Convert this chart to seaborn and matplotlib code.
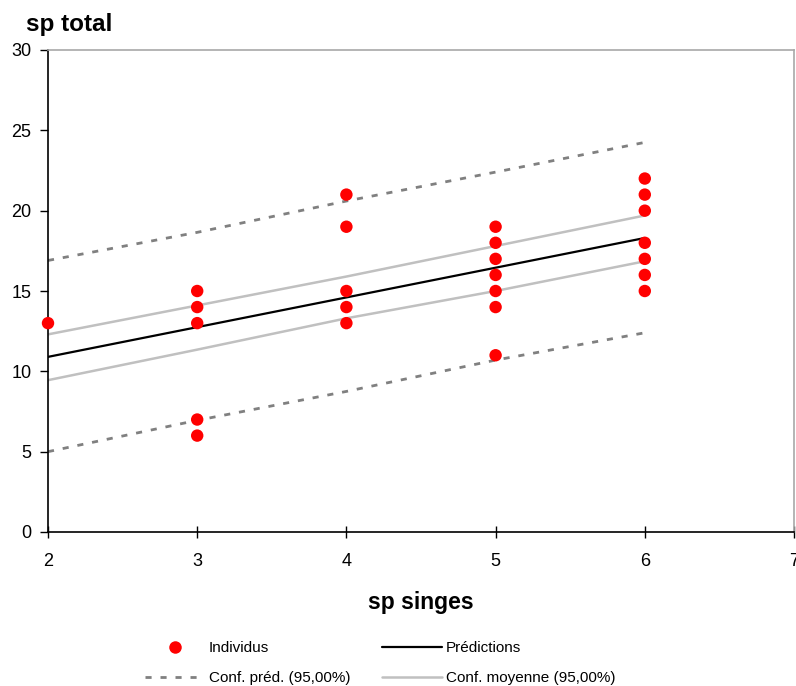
import pandas as pd
import matplotlib.pyplot as plt
import seaborn as sns
from matplotlib.lines import Line2D

# observed points (sp singes -> sp total)
obs_x = [2, 3, 3, 3, 3, 3, 4, 4, 4, 4, 4, 5, 5, 5, 5, 5, 5, 5, 6, 6, 6, 6, 6, 6, 6]
obs_y = [13, 15, 14, 13, 7, 6, 21, 19, 15, 14, 13, 19, 18, 17, 16, 15, 14, 11,
         22, 21, 20, 18, 17, 16, 15]

# fitted line and bands
fit_x = [2, 3, 4, 5, 6]
pred = [10.9, 12.75, 14.6, 16.45, 18.3]
mean_hi = [12.3, 14.1, 15.9, 17.8, 19.7]
mean_lo = [9.45, 11.35, 13.3, 15.0, 16.85]
pred_hi = [16.9, 18.65, 20.6, 22.4, 24.25]
pred_lo = [5.0, 6.95, 8.75, 10.7, 12.4]

sns.set_style('white')
plt.rcParams['font.family'] = ['Liberation Sans', 'DejaVu Sans']
plt.rcParams['text.color'] = 'black'
plt.rcParams['axes.labelcolor'] = 'black'
plt.rcParams['xtick.color'] = 'black'
plt.rcParams['ytick.color'] = 'black'

fig = plt.figure(figsize=(7.96, 6.86), dpi=100)
ax = fig.add_axes([48 / 796, 154 / 686, 746 / 796, 482 / 686])

pts = pd.DataFrame({'x': obs_x, 'y': obs_y})
fit = pd.DataFrame({'x': fit_x, 'pred': pred, 'mean_hi': mean_hi, 'mean_lo': mean_lo,
                    'pred_hi': pred_hi, 'pred_lo': pred_lo})

for col in ['pred_hi', 'pred_lo']:
    sns.lineplot(data=fit, x='x', y=col, ax=ax, color='#808080', lw=2)
    ax.lines[-1].set_dashes((2.2, 3.2))
for col in ['mean_hi', 'mean_lo']:
    sns.lineplot(data=fit, x='x', y=col, ax=ax, color='#c0c0c0', lw=1.8)
sns.lineplot(data=fit, x='x', y='pred', ax=ax, color='black', lw=1.6)
sns.scatterplot(data=pts, x='x', y='y', ax=ax, color='red', s=80, edgecolor='none',
                zorder=5, clip_on=False)

ax.set_xlim(2, 7)
ax.set_ylim(0, 30)
ax.set_xticks([2, 3, 4, 5, 6, 7])
ax.set_yticks([0, 5, 10, 15, 20, 25, 30])
ax.tick_params(axis='y', direction='out', length=6, width=1, labelsize=13, pad=6, left=True)
ax.tick_params(axis='x', direction='inout', length=8, width=1, labelsize=13, pad=11, bottom=True)
for s in ['left', 'bottom']:
    ax.spines[s].set_color('black')
    ax.spines[s].set_linewidth(1.2)
for s in ['top', 'right']:
    ax.spines[s].set_color('#a8a8a8')
    ax.spines[s].set_linewidth(1.2)

ax.set_xlabel('sp singes', fontsize=16.5, fontweight='bold', labelpad=15)
ax.set_ylabel('')
fig.text(26 / 796, 1 - 24 / 686, 'sp total', fontsize=17.5, fontweight='bold', va='center', ha='left')

handles = [
    Line2D([], [], color='red', marker='o', ls='none', markersize=9, markeredgecolor='none'),
    Line2D([], [], color='#808080', lw=2, dashes=(2.2, 3.2)),
    Line2D([], [], color='black', lw=1.6),
    Line2D([], [], color='#c0c0c0', lw=1.8),
]
labels = ['Individus', 'Conf. préd. (95,00%)', 'Prédictions', 'Conf. moyenne (95,00%)']
fig.legend(handles, labels, ncol=2, loc='upper left', bbox_to_anchor=(145 / 796, 1 - 641 / 686),
           frameon=False, fontsize=11, handlelength=3.9, handletextpad=0.26,
           columnspacing=2.1, labelspacing=1.05, borderpad=0, borderaxespad=0)

fig.savefig('out.png', dpi=100)
